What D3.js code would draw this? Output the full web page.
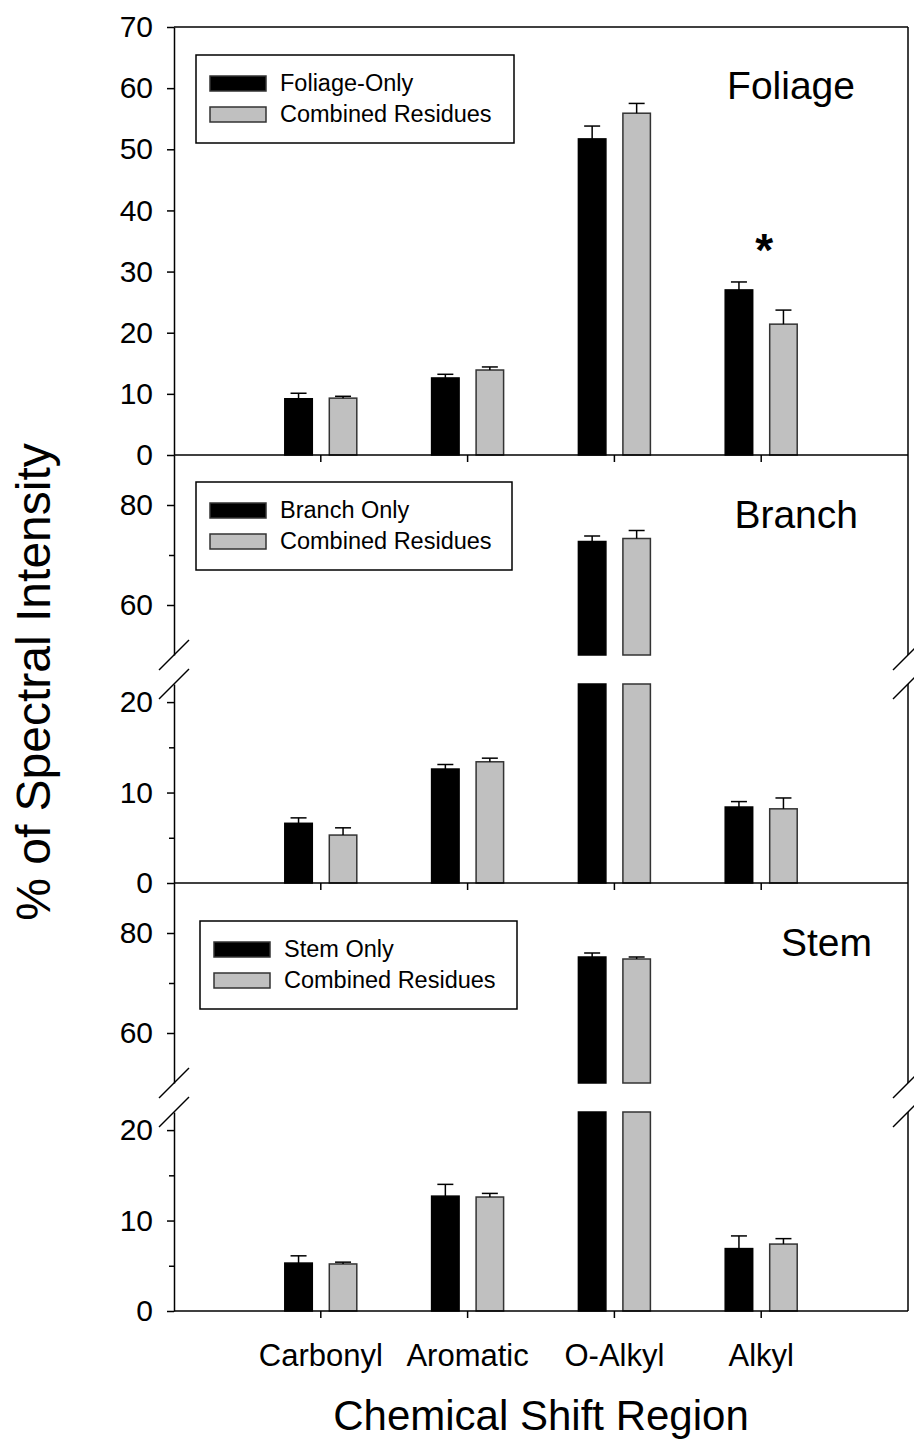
<!DOCTYPE html>
<html>
<head>
<meta charset="utf-8">
<script src="https://cdn.jsdelivr.net/npm/d3@7"></script>
<style>
  body { margin: 0; background: #fff; }
  svg text { font-family: "Liberation Sans", Arial, sans-serif; fill: #000; }
</style>
</head>
<body>
<div id="chart"></div>
<script>
// chart values
var categories = ["Carbonyl", "Aromatic", "O-Alkyl", "Alkyl"];
var seriesKeys = ["single", "combined"];

var foliageOnly = [9.2, 12.6, 51.7, 27.0];
var foliageOnlyErr = [0.9, 0.6, 2.1, 1.3];
var foliageCombined = [9.3, 13.9, 55.9, 21.4];
var foliageCombinedErr = [0.3, 0.5, 1.6, 2.3];

var branchOnly = [6.6, 12.6, 72.7, 8.4];
var branchOnlyErr = [0.6, 0.5, 1.1, 0.6];
var branchCombined = [5.3, 13.4, 73.3, 8.2];
var branchCombinedErr = [0.8, 0.4, 1.6, 1.2];

var stemOnly = [5.3, 12.7, 75.2, 6.9];
var stemOnlyErr = [0.8, 1.3, 0.8, 1.4];
var stemCombined = [5.2, 12.6, 74.8, 7.4];
var stemCombinedErr = [0.2, 0.4, 0.4, 0.6];

var legendNames = [
  ["Foliage-Only", "Combined Residues"],
  ["Branch Only", "Combined Residues"],
  ["Stem Only", "Combined Residues"]
];
var panelTitles = ["Foliage", "Branch", "Stem"];

var colors = { single: "#000000", combined: "#c0c0c0" };

var W = 914, H = 1439;
var left = 174, right = 908;

var svg = d3.select("#chart").append("svg")
    .attr("width", W)
    .attr("height", H);

// x: categories sit at 1..4 of a 0..5 span
var step = (right - left) / 5;
var x = d3.scaleBand()
    .domain(categories)
    .range([left + step / 2, right - step / 2]);
var xs = d3.scaleBand()
    .domain(seriesKeys)
    .range([-36, 36])
    .paddingInner(0.382);

function rows(single, singleErr, comb, combErr) {
  var out = [];
  categories.forEach(function(c, i) {
    out.push({ cat: c, key: "single", v: single[i], e: singleErr[i] });
    out.push({ cat: c, key: "combined", v: comb[i], e: combErr[i] });
  });
  return out;
}

function cx(d) { return x(d.cat) + x.bandwidth() / 2; }

function drawBars(g, data, y, lo, hi, withErr) {
  var vis = data.filter(function(d) { return d.v > lo; });
  g.selectAll(null)
    .data(vis)
    .enter().append("rect")
    .attr("x", function(d) { return cx(d) + xs(d.key); })
    .attr("width", xs.bandwidth())
    .attr("y", function(d) { return y(Math.min(d.v, hi)); })
    .attr("height", function(d) { return y(lo) - y(Math.min(d.v, hi)); })
    .style("fill", function(d) { return colors[d.key]; })
    .style("stroke", function(d) { return d.key == "single" ? "#000" : "#333"; })
    .style("stroke-width", 1.5);
  if (!withErr) return;
  var err = vis.filter(function(d) { return d.v <= hi; });
  var eg = g.selectAll(null).data(err).enter().append("g")
    .style("stroke", "#000").style("stroke-width", 1.5);
  eg.append("line")
    .attr("x1", function(d) { return cx(d) + xs(d.key) + xs.bandwidth() / 2; })
    .attr("x2", function(d) { return cx(d) + xs(d.key) + xs.bandwidth() / 2; })
    .attr("y1", function(d) { return y(d.v); })
    .attr("y2", function(d) { return y(d.v + d.e); });
  eg.append("line")
    .attr("x1", function(d) { return cx(d) + xs(d.key) + xs.bandwidth() / 2 - 8; })
    .attr("x2", function(d) { return cx(d) + xs(d.key) + xs.bandwidth() / 2 + 8; })
    .attr("y1", function(d) { return y(d.v + d.e); })
    .attr("y2", function(d) { return y(d.v + d.e); });
}

function yAxis(y, major, minor) {
  var g = svg.append("g").attr("transform", "translate(" + left + ",0)");
  g.call(d3.axisLeft(y).tickValues(major).tickSize(7).tickSizeOuter(0).tickPadding(14));
  if (minor.length) {
    g.append("g").call(d3.axisLeft(y).tickValues(minor).tickSize(5).tickFormat(""))
      .select(".domain").remove();
  }
  g.selectAll("text").style("font-size", "30px").style("font-family", "Liberation Sans, Arial, sans-serif");
  g.selectAll("path, line").style("stroke", "#000").style("stroke-width", 1.5);
  // right frame line
  svg.append("line")
    .attr("x1", right).attr("x2", right)
    .attr("y1", y.range()[0]).attr("y2", y.range()[1])
    .style("stroke", "#000").style("stroke-width", 1.5);
}

function xAxis(yPix) {
  var g = svg.append("g").attr("transform", "translate(0," + yPix + ")");
  g.call(d3.axisBottom(x).tickSize(7).tickSizeOuter(0).tickFormat(""));
  g.select(".domain").attr("d", "M" + left + ",0H" + right);
  g.selectAll("path, line").style("stroke", "#000").style("stroke-width", 1.5);
  return g;
}

function breakMarks(yPix) {
  [left, right].forEach(function(xp) {
    svg.append("line")
      .attr("x1", xp - 15).attr("x2", xp + 15)
      .attr("y1", yPix + 15).attr("y2", yPix - 15)
      .style("stroke", "#000").style("stroke-width", 1.5);
  });
}

function legend(x0, y0, w, names) {
  var g = svg.append("g").attr("transform", "translate(" + x0 + "," + y0 + ")");
  g.append("rect").attr("width", w).attr("height", 88)
    .style("fill", "#fff").style("stroke", "#000").style("stroke-width", 1.5);
  seriesKeys.forEach(function(k, i) {
    g.append("rect")
      .attr("x", 14).attr("y", 21 + i * 31)
      .attr("width", 56).attr("height", 15)
      .style("fill", colors[k]).style("stroke", "#333").style("stroke-width", 1.5);
    g.append("text")
      .attr("x", 84).attr("y", 36 + i * 31)
      .style("font-size", "23.5px")
      .text(names[i]);
  });
}

function title(xr, yb, t) {
  svg.append("text")
    .attr("x", xr).attr("y", yb)
    .attr("text-anchor", "end")
    .style("font-size", "39px")
    .text(t);
}

// ---- Foliage panel ----
var yF = d3.scaleLinear().domain([0, 70]).range([455, 27]);
svg.append("line").attr("x1", left).attr("x2", right).attr("y1", 27).attr("y2", 27)
  .style("stroke", "#000").style("stroke-width", 1.5);
var gF = svg.append("g");
drawBars(gF, rows(foliageOnly, foliageOnlyErr, foliageCombined, foliageCombinedErr), yF, 0, 70, true);
yAxis(yF, d3.range(0, 71, 10), []);
xAxis(455);
legend(196, 55, 318, legendNames[0]);
title(855, 99, panelTitles[0]);
svg.append("text")
  .attr("x", x("Alkyl") + x.bandwidth() / 2 + 3)
  .attr("y", 266)
  .attr("text-anchor", "middle")
  .style("font-size", "46px")
  .style("font-weight", "bold")
  .text("*");

// ---- Branch and Stem panels (broken axis) ----
function brokenPanel(top, single, singleErr, comb, combErr, names, t, legX, legY, legW, titleX) {
  var bottom = top + 428;
  var yLow = d3.scaleLinear().domain([0, 22]).range([bottom, bottom - 199]);
  var yHigh = d3.scaleLinear().domain([50, 90]).range([top + 200, top]);
  var data = rows(single, singleErr, comb, combErr);
  var g = svg.append("g");
  drawBars(g, data, yLow, 0, 22, true);
  drawBars(g, data, yHigh, 50, 90, true);
  yAxis(yLow, [0, 10, 20], [5, 15]);
  yAxis(yHigh, [60, 80], [70]);
  xAxis(bottom);
  breakMarks(yHigh(50));
  breakMarks(yLow(22));
  legend(legX, legY, legW, names);
  title(titleX, top + 73, t);
}

brokenPanel(455, branchOnly, branchOnlyErr, branchCombined, branchCombinedErr,
  legendNames[1], panelTitles[1], 196, 482, 316, 858);
brokenPanel(883, stemOnly, stemOnlyErr, stemCombined, stemCombinedErr,
  legendNames[2], panelTitles[2], 200, 921, 317, 872);

// category labels under the last panel
svg.append("g").selectAll("text")
  .data(categories)
  .enter().append("text")
  .attr("x", function(d) { return x(d) + x.bandwidth() / 2; })
  .attr("y", 1366)
  .attr("text-anchor", "middle")
  .style("font-size", "31px")
  .text(function(d) { return d; });

// axis titles
svg.append("text")
  .attr("x", (left + right) / 2)
  .attr("y", 1430)
  .attr("text-anchor", "middle")
  .style("font-size", "42px")
  .text("Chemical Shift Region");

svg.append("text")
  .attr("transform", "translate(50,682) rotate(-90)")
  .attr("text-anchor", "middle")
  .style("font-size", "48px")
  .text("% of Spectral Intensity");
</script>
</body>
</html>
